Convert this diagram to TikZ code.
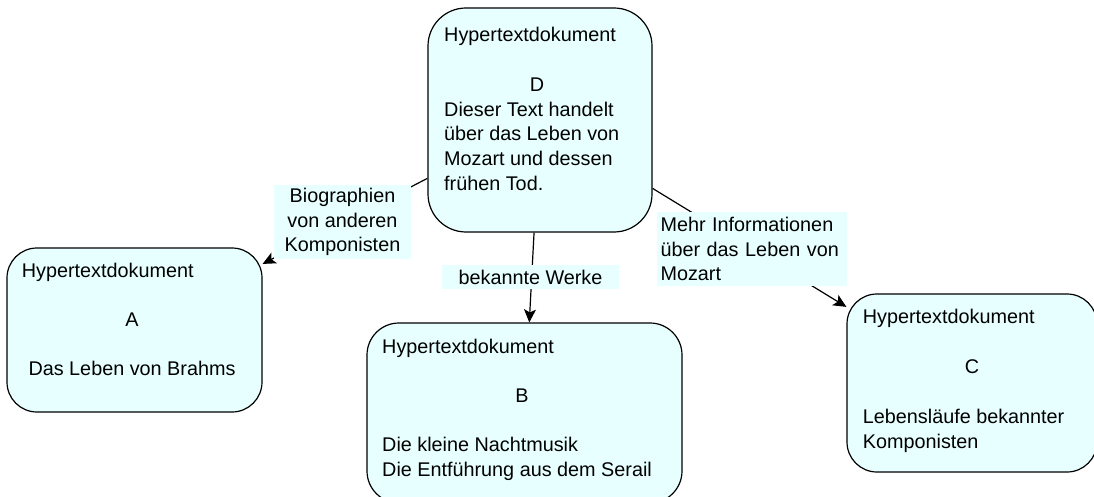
\documentclass[tikz,border=0pt]{standalone}
\usepackage{fontspec}
\setmainfont{Liberation Sans}
\usetikzlibrary{arrows.meta}
\definecolor{cyanbg}{RGB}{232,255,255}
\tikzset{
  doc/.style={draw=black, line width=1.2pt, fill=cyanbg, rounded corners=#1, inner sep=0pt},
  txt/.style={inner sep=0pt, font=\fontsize{19.8}{24.6}\selectfont, text=black},
  lbl/.style={txt, fill=cyanbg},
  link/.style={line width=1.2pt, draw=black, -{Stealth[length=13pt,width=12pt,inset=3pt]}}
}
\begin{document}
\begin{tikzpicture}[x=1pt,y=-1pt]
\useasboundingbox (0,0) rectangle (1094,497);
\clip (0,0) rectangle (1094,497);
% document boxes
\node[doc=38pt, minimum width=224pt, minimum height=224pt] (D) at (540,120) {};
\node[doc=30pt, minimum width=255pt, minimum height=164pt] (A) at (134.5,330) {};
\node[doc=32pt, minimum width=315pt, minimum height=180pt] (B) at (524.5,413) {};
\node[doc=30pt, minimum width=250pt, minimum height=178pt] (C) at (972,383) {};
% connectors
\draw[link] (D) -- (A);
\draw[link] (D) -- (B);
\draw[link] (D) -- (C);
% connector labels
\node[lbl, minimum width=137pt, minimum height=74pt, align=center] (LA) at (342.5,222)
  {Biographien\\von anderen\\Komponisten};
\node[lbl, minimum width=177pt, minimum height=24pt] (LB) at (530.5,277) {bekannte Werke};
\node[lbl, minimum width=190pt, minimum height=74pt, text width=183pt, align=left] (LC) at (752,249)
  {Mehr Informationen\\über das Leben von\\Mozart};
% texts of D
\node[txt, anchor=base west] (Dh) at (444,41.7) {Hypertextdokument};
\node[txt, anchor=base] (Dl) at (537,91.5) {D};
\node[txt, anchor=base west] (Db) at (444,116.3)
  {\parbox[t]{200pt}{Dieser Text handelt\\über das Leben von\\Mozart und dessen\\frühen Tod.}};
% texts of A
\node[txt, anchor=base west] (Ah) at (21.7,277) {Hypertextdokument};
\node[txt, anchor=base] (Al) at (132,326) {A};
\node[txt, anchor=base] (Ab) at (132,375.5) {Das Leben von Brahms};
% texts of B
\node[txt, anchor=base west] (Bh) at (382,353) {Hypertextdokument};
\node[txt, anchor=base] (Bl) at (522,402.5) {B};
\node[txt, anchor=base west] (Bb) at (382,451.5)
  {\parbox[t]{290pt}{Die kleine Nachtmusik\\Die Entführung aus dem Serail}};
% texts of C
\node[txt, anchor=base west] (Ch) at (862.7,323.3) {Hypertextdokument};
\node[txt, anchor=base] (Cl) at (972,373) {C};
\node[txt, anchor=base west] (Cb) at (862.7,423.5)
  {\parbox[t]{225pt}{Lebensläufe bekannter\\Komponisten}};
\end{tikzpicture}
\end{document}
